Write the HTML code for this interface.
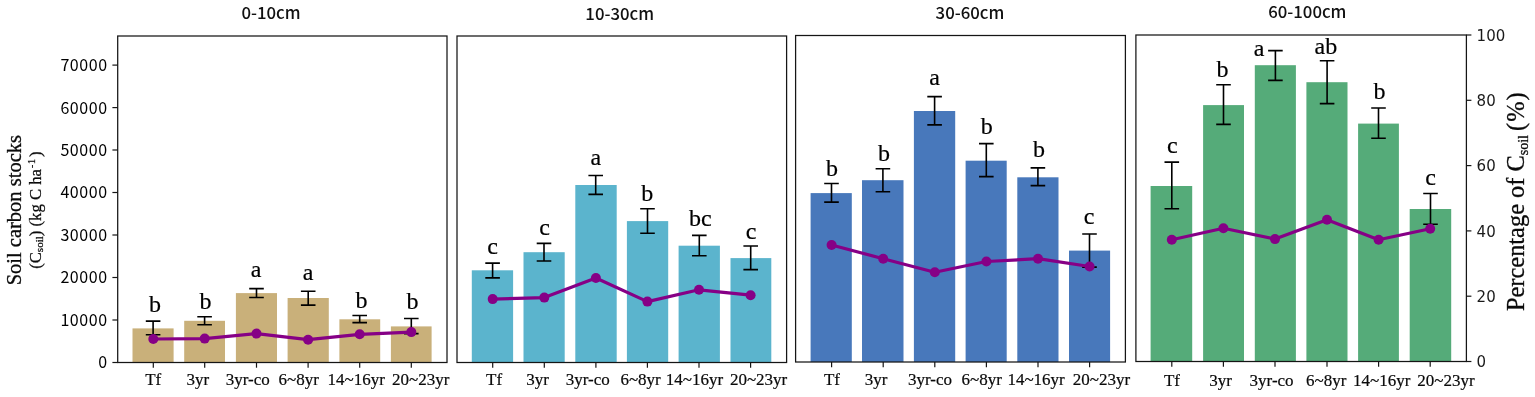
<!DOCTYPE html>
<html lang="en"><head><meta charset="utf-8"><title>Soil carbon stocks by depth</title>
<style>html,body{margin:0;padding:0;background:#fff;}body{width:1535px;height:397px;overflow:hidden;}svg{display:block;}.sp{fill:none;stroke:#151515;stroke-width:1.25;}.tk{stroke:#151515;stroke-width:1.2;}.eb{stroke:#000;stroke-width:1.6;fill:none;}.xl{font-family:'Liberation Serif', 'Times New Roman', serif;font-size:17px;fill:#0a0a0a;stroke:#0a0a0a;stroke-width:0.2px;}.lt{font-family:'Liberation Serif', 'Times New Roman', serif;font-size:24px;fill:#000;stroke:#000;stroke-width:0.2px;text-anchor:middle;}.ti{font-family:'Noto Sans CJK SC', 'Liberation Sans', sans-serif;font-size:16.8px;font-weight:500;fill:#111;text-anchor:middle;}.yl{font-family:'Noto Sans CJK SC', 'Liberation Sans', sans-serif;font-size:16px;letter-spacing:0.55px;fill:#000;text-anchor:end;}.yr{font-family:'DejaVu Sans', 'Liberation Sans', sans-serif;font-size:15px;fill:#1a1a1a;text-anchor:start;}</style></head><body>
<svg width="1535" height="397" viewBox="0 0 1535 397">
<rect x="0" y="0" width="1535" height="397" fill="#ffffff"/>
<g>
<text class="ti" x="271.0" y="19.3">0-10cm</text>
<rect x="132.5" y="328.4" width="41.1" height="34.1" fill="#C9B07A"/>
<rect x="184.2" y="320.8" width="40.8" height="41.7" fill="#C9B07A"/>
<rect x="235.9" y="293.1" width="41.1" height="69.4" fill="#C9B07A"/>
<rect x="287.6" y="298.0" width="41.2" height="64.5" fill="#C9B07A"/>
<rect x="339.4" y="319.3" width="40.8" height="43.2" fill="#C9B07A"/>
<rect x="390.9" y="326.4" width="40.7" height="36.1" fill="#C9B07A"/>
<path class="eb" d="M153.1 321.1V334.7M145.8 321.1H160.4M145.8 334.7H160.4"/>
<path class="eb" d="M204.6 316.7V324.7M197.3 316.7H211.9M197.3 324.7H211.9"/>
<path class="eb" d="M256.5 288.6V297.5M249.2 288.6H263.8M249.2 297.5H263.8"/>
<path class="eb" d="M308.2 291.2V305.1M300.9 291.2H315.5M300.9 305.1H315.5"/>
<path class="eb" d="M359.7 315.5V322.6M352.4 315.5H367.0M352.4 322.6H367.0"/>
<path class="eb" d="M411.3 318.5V333.6M404.0 318.5H418.6M404.0 333.6H418.6"/>
<polyline points="153.3,339.0 204.7,338.6 256.5,333.6 308.1,339.7 359.7,334.3 411.3,332.1" fill="none" stroke="#860086" stroke-width="3.2" stroke-linejoin="round"/>
<circle cx="153.3" cy="339.0" r="5" fill="#860086"/>
<circle cx="204.7" cy="338.6" r="5" fill="#860086"/>
<circle cx="256.5" cy="333.6" r="5" fill="#860086"/>
<circle cx="308.1" cy="339.7" r="5" fill="#860086"/>
<circle cx="359.7" cy="334.3" r="5" fill="#860086"/>
<circle cx="411.3" cy="332.1" r="5" fill="#860086"/>
<rect class="sp" x="117.7" y="36.0" width="329.3" height="326.5"/>
<line class="tk" x1="153.3" y1="362.5" x2="153.3" y2="367.7"/>
<line class="tk" x1="204.7" y1="362.5" x2="204.7" y2="367.7"/>
<line class="tk" x1="256.5" y1="362.5" x2="256.5" y2="367.7"/>
<line class="tk" x1="308.1" y1="362.5" x2="308.1" y2="367.7"/>
<line class="tk" x1="359.7" y1="362.5" x2="359.7" y2="367.7"/>
<line class="tk" x1="411.3" y1="362.5" x2="411.3" y2="367.7"/>
<text class="xl" x="145.2" y="385.3">Tf</text>
<text class="xl" x="186.5" y="385.3">3yr</text>
<text class="xl" x="225.8" y="385.3">3yr-co</text>
<text class="xl" x="278.5" y="385.3">6~8yr</text>
<text class="xl" x="327.6" y="385.3">14~16yr</text>
<text class="xl" x="392.1" y="385.3">20~23yr</text>
<text class="lt" x="155.1" y="312.0">b</text>
<text class="lt" x="205.6" y="309.0">b</text>
<text class="lt" x="256.2" y="277.3">a</text>
<text class="lt" x="308.0" y="280.0">a</text>
<text class="lt" x="361.5" y="308.4">b</text>
<text class="lt" x="412.4" y="308.7">b</text>
</g>
<g>
<text class="ti" x="619.7" y="20.2">10-30cm</text>
<rect x="471.8" y="270.3" width="41.3" height="92.2" fill="#5BB4CD"/>
<rect x="523.5" y="252.2" width="41.2" height="110.3" fill="#5BB4CD"/>
<rect x="575.3" y="185.0" width="41.4" height="177.5" fill="#5BB4CD"/>
<rect x="626.9" y="221.1" width="41.3" height="141.4" fill="#5BB4CD"/>
<rect x="678.6" y="245.7" width="41.3" height="116.8" fill="#5BB4CD"/>
<rect x="730.5" y="258.1" width="40.8" height="104.4" fill="#5BB4CD"/>
<path class="eb" d="M492.6 263.1V277.9M485.3 263.1H499.9M485.3 277.9H499.9"/>
<path class="eb" d="M544.0 243.4V261.0M536.7 243.4H551.3M536.7 261.0H551.3"/>
<path class="eb" d="M595.7 175.5V194.4M588.4 175.5H603.0M588.4 194.4H603.0"/>
<path class="eb" d="M647.5 208.7V233.2M640.2 208.7H654.8M640.2 233.2H654.8"/>
<path class="eb" d="M699.3 235.4V255.8M692.0 235.4H706.6M692.0 255.8H706.6"/>
<path class="eb" d="M750.7 246.0V269.6M743.4 246.0H758.0M743.4 269.6H758.0"/>
<polyline points="492.7,299.1 544.3,297.6 595.9,278.0 647.4,301.6 699.0,289.8 750.6,295.2" fill="none" stroke="#860086" stroke-width="3.2" stroke-linejoin="round"/>
<circle cx="492.7" cy="299.1" r="5" fill="#860086"/>
<circle cx="544.3" cy="297.6" r="5" fill="#860086"/>
<circle cx="595.9" cy="278.0" r="5" fill="#860086"/>
<circle cx="647.4" cy="301.6" r="5" fill="#860086"/>
<circle cx="699.0" cy="289.8" r="5" fill="#860086"/>
<circle cx="750.6" cy="295.2" r="5" fill="#860086"/>
<rect class="sp" x="457.0" y="36.0" width="329.6" height="326.5"/>
<line class="tk" x1="492.7" y1="362.5" x2="492.7" y2="367.7"/>
<line class="tk" x1="544.3" y1="362.5" x2="544.3" y2="367.7"/>
<line class="tk" x1="595.9" y1="362.5" x2="595.9" y2="367.7"/>
<line class="tk" x1="647.4" y1="362.5" x2="647.4" y2="367.7"/>
<line class="tk" x1="699.0" y1="362.5" x2="699.0" y2="367.7"/>
<line class="tk" x1="750.6" y1="362.5" x2="750.6" y2="367.7"/>
<text class="xl" x="486.0" y="385.3">Tf</text>
<text class="xl" x="526.3" y="385.3">3yr</text>
<text class="xl" x="565.7" y="385.3">3yr-co</text>
<text class="xl" x="620.4" y="385.3">6~8yr</text>
<text class="xl" x="665.8" y="385.3">14~16yr</text>
<text class="xl" x="729.9" y="385.3">20~23yr</text>
<text class="lt" x="492.5" y="254.0">c</text>
<text class="lt" x="544.6" y="235.3">c</text>
<text class="lt" x="595.9" y="165.4">a</text>
<text class="lt" x="647.2" y="200.7">b</text>
<text class="lt" x="700.3" y="226.1">bc</text>
<text class="lt" x="751.1" y="238.9">c</text>
</g>
<g>
<text class="ti" x="970.0" y="19.3">30-60cm</text>
<rect x="810.6" y="193.1" width="41.2" height="168.9" fill="#4878BB"/>
<rect x="862.0" y="180.2" width="41.5" height="181.8" fill="#4878BB"/>
<rect x="913.9" y="111.0" width="41.3" height="251.0" fill="#4878BB"/>
<rect x="965.6" y="160.7" width="41.1" height="201.3" fill="#4878BB"/>
<rect x="1017.3" y="177.3" width="41.2" height="184.7" fill="#4878BB"/>
<rect x="1069.0" y="250.6" width="41.1" height="111.4" fill="#4878BB"/>
<path class="eb" d="M831.5 183.5V202.1M824.2 183.5H838.8M824.2 202.1H838.8"/>
<path class="eb" d="M882.9 168.7V191.8M875.6 168.7H890.2M875.6 191.8H890.2"/>
<path class="eb" d="M934.6 96.6V124.9M927.3 96.6H941.9M927.3 124.9H941.9"/>
<path class="eb" d="M986.3 143.6V176.6M979.0 143.6H993.6M979.0 176.6H993.6"/>
<path class="eb" d="M1037.9 167.9V185.6M1030.6 167.9H1045.2M1030.6 185.6H1045.2"/>
<path class="eb" d="M1089.5 234.0V267.1M1082.2 234.0H1096.8M1082.2 267.1H1096.8"/>
<polyline points="831.6,245.0 883.2,258.7 934.8,272.3 986.4,261.5 1038.0,258.7 1089.6,266.5" fill="none" stroke="#860086" stroke-width="3.2" stroke-linejoin="round"/>
<circle cx="831.6" cy="245.0" r="5" fill="#860086"/>
<circle cx="883.2" cy="258.7" r="5" fill="#860086"/>
<circle cx="934.8" cy="272.3" r="5" fill="#860086"/>
<circle cx="986.4" cy="261.5" r="5" fill="#860086"/>
<circle cx="1038.0" cy="258.7" r="5" fill="#860086"/>
<circle cx="1089.6" cy="266.5" r="5" fill="#860086"/>
<rect class="sp" x="795.6" y="35.5" width="329.8" height="326.5"/>
<line class="tk" x1="831.6" y1="362.0" x2="831.6" y2="367.2"/>
<line class="tk" x1="883.2" y1="362.0" x2="883.2" y2="367.2"/>
<line class="tk" x1="934.8" y1="362.0" x2="934.8" y2="367.2"/>
<line class="tk" x1="986.4" y1="362.0" x2="986.4" y2="367.2"/>
<line class="tk" x1="1038.0" y1="362.0" x2="1038.0" y2="367.2"/>
<line class="tk" x1="1089.6" y1="362.0" x2="1089.6" y2="367.2"/>
<text class="xl" x="823.9" y="385.3">Tf</text>
<text class="xl" x="864.8" y="385.3">3yr</text>
<text class="xl" x="908.0" y="385.3">3yr-co</text>
<text class="xl" x="961.6" y="385.3">6~8yr</text>
<text class="xl" x="1007.4" y="385.3">14~16yr</text>
<text class="xl" x="1072.8" y="385.3">20~23yr</text>
<text class="lt" x="832.0" y="176.0">b</text>
<text class="lt" x="884.1" y="160.6">b</text>
<text class="lt" x="934.7" y="85.2">a</text>
<text class="lt" x="986.7" y="134.0">b</text>
<text class="lt" x="1039.0" y="157.4">b</text>
<text class="lt" x="1089.0" y="224.0">c</text>
</g>
<g>
<text class="ti" x="1307.3" y="18.2">60-100cm</text>
<rect x="1150.6" y="186.0" width="41.6" height="175.5" fill="#55AB79"/>
<rect x="1203.1" y="105.1" width="40.9" height="256.4" fill="#55AB79"/>
<rect x="1254.8" y="65.2" width="41.1" height="296.3" fill="#55AB79"/>
<rect x="1306.4" y="82.2" width="41.1" height="279.3" fill="#55AB79"/>
<rect x="1358.1" y="123.6" width="40.8" height="237.9" fill="#55AB79"/>
<rect x="1409.7" y="209.0" width="41.5" height="152.5" fill="#55AB79"/>
<path class="eb" d="M1171.8 162.1V208.7M1164.5 162.1H1179.1M1164.5 208.7H1179.1"/>
<path class="eb" d="M1223.5 84.7V124.4M1216.2 84.7H1230.8M1216.2 124.4H1230.8"/>
<path class="eb" d="M1275.4 50.6V80.4M1268.1 50.6H1282.7M1268.1 80.4H1282.7"/>
<path class="eb" d="M1327.1 60.8V103.6M1319.8 60.8H1334.4M1319.8 103.6H1334.4"/>
<path class="eb" d="M1378.5 108.0V138.3M1371.2 108.0H1385.8M1371.2 138.3H1385.8"/>
<path class="eb" d="M1430.5 193.5V224.2M1423.2 193.5H1437.8M1423.2 224.2H1437.8"/>
<polyline points="1171.8,239.7 1223.4,228.3 1275.0,239.1 1327.0,219.7 1378.6,239.7 1430.2,228.7" fill="none" stroke="#860086" stroke-width="3.2" stroke-linejoin="round"/>
<circle cx="1171.8" cy="239.7" r="5" fill="#860086"/>
<circle cx="1223.4" cy="228.3" r="5" fill="#860086"/>
<circle cx="1275.0" cy="239.1" r="5" fill="#860086"/>
<circle cx="1327.0" cy="219.7" r="5" fill="#860086"/>
<circle cx="1378.6" cy="239.7" r="5" fill="#860086"/>
<circle cx="1430.2" cy="228.7" r="5" fill="#860086"/>
<rect class="sp" x="1135.9" y="35.0" width="330.5" height="326.5"/>
<line class="tk" x1="1171.8" y1="361.5" x2="1171.8" y2="366.7"/>
<line class="tk" x1="1223.4" y1="361.5" x2="1223.4" y2="366.7"/>
<line class="tk" x1="1275.0" y1="361.5" x2="1275.0" y2="366.7"/>
<line class="tk" x1="1327.0" y1="361.5" x2="1327.0" y2="366.7"/>
<line class="tk" x1="1378.6" y1="361.5" x2="1378.6" y2="366.7"/>
<line class="tk" x1="1430.2" y1="361.5" x2="1430.2" y2="366.7"/>
<text class="xl" x="1163.9" y="385.5">Tf</text>
<text class="xl" x="1209.3" y="385.5">3yr</text>
<text class="xl" x="1249.6" y="385.5">3yr-co</text>
<text class="xl" x="1306.0" y="385.5">6~8yr</text>
<text class="xl" x="1353.0" y="385.5">14~16yr</text>
<text class="xl" x="1417.2" y="385.5">20~23yr</text>
<text class="lt" x="1172.4" y="152.8">c</text>
<text class="lt" x="1222.5" y="76.6">b</text>
<text class="lt" x="1259.1" y="56.4">a</text>
<text class="lt" x="1325.9" y="53.9">ab</text>
<text class="lt" x="1379.4" y="99.3">b</text>
<text class="lt" x="1430.5" y="185.0">c</text>
</g>
<g>
<line class="tk" x1="112.4" y1="362.5" x2="117.7" y2="362.5"/>
<text class="yl" x="107.6" y="368.4">0</text>
<line class="tk" x1="112.4" y1="320.0" x2="117.7" y2="320.0"/>
<text class="yl" x="107.6" y="325.9">10000</text>
<line class="tk" x1="112.4" y1="277.5" x2="117.7" y2="277.5"/>
<text class="yl" x="107.6" y="283.4">20000</text>
<line class="tk" x1="112.4" y1="235.0" x2="117.7" y2="235.0"/>
<text class="yl" x="107.6" y="240.9">30000</text>
<line class="tk" x1="112.4" y1="192.5" x2="117.7" y2="192.5"/>
<text class="yl" x="107.6" y="198.4">40000</text>
<line class="tk" x1="112.4" y1="150.0" x2="117.7" y2="150.0"/>
<text class="yl" x="107.6" y="155.9">50000</text>
<line class="tk" x1="112.4" y1="107.6" x2="117.7" y2="107.6"/>
<text class="yl" x="107.6" y="113.5">60000</text>
<line class="tk" x1="112.4" y1="65.1" x2="117.7" y2="65.1"/>
<text class="yl" x="107.6" y="71.0">70000</text>
</g>
<g>
<line class="tk" x1="1466.4" y1="361.5" x2="1471.4" y2="361.5"/>
<text class="yr" x="1476.6" y="367.1">0</text>
<line class="tk" x1="1466.4" y1="296.2" x2="1471.4" y2="296.2"/>
<text class="yr" x="1476.6" y="301.8">20</text>
<line class="tk" x1="1466.4" y1="230.9" x2="1471.4" y2="230.9"/>
<text class="yr" x="1476.6" y="236.5">40</text>
<line class="tk" x1="1466.4" y1="165.6" x2="1471.4" y2="165.6"/>
<text class="yr" x="1476.6" y="171.2">60</text>
<line class="tk" x1="1466.4" y1="100.3" x2="1471.4" y2="100.3"/>
<text class="yr" x="1476.6" y="105.9">80</text>
<line class="tk" x1="1466.4" y1="35.0" x2="1471.4" y2="35.0"/>
<text class="yr" x="1476.6" y="40.6">100</text>
</g>
<text transform="translate(20.7,210.2) rotate(-90)" text-anchor="middle" style="font-family:'Liberation Serif', 'Times New Roman', serif;font-size:20.5px;fill:#0a0a0a;stroke:#0a0a0a;stroke-width:0.3px">Soil carbon stocks</text>
<text transform="translate(40.6,210.1) rotate(-90)" text-anchor="middle" style="font-family:'Liberation Serif', 'Times New Roman', serif;font-size:16.7px;fill:#0a0a0a;stroke:#0a0a0a;stroke-width:0.25px">(C<tspan dy="2.5" style="font-size:11px">soil</tspan><tspan dy="-2.5">) (kg C ha</tspan><tspan dy="-6" dx="1" style="font-size:10px;letter-spacing:0.6px">-1</tspan><tspan dy="6" dx="1.6">)</tspan></text>
<text transform="translate(1523.6,201.2) rotate(-90)" text-anchor="middle" style="font-family:'Liberation Serif', 'Times New Roman', serif;font-size:24.4px;fill:#0a0a0a;stroke:#0a0a0a;stroke-width:0.3px">Percentage of C<tspan dy="4" style="font-size:14px">soil</tspan><tspan dy="-4" dx="-3" style="letter-spacing:1px"> (%)</tspan></text>
</svg></body></html>
